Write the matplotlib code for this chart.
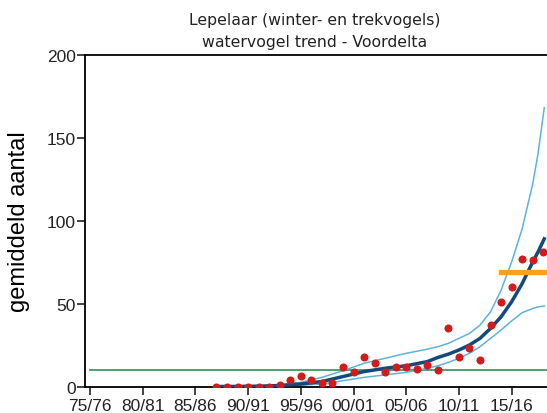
import matplotlib
matplotlib.use("Agg")
import matplotlib.pyplot as plt

# seizoenen (startjaar) met getelde aantallen
count_years = list(range(1987, 2019))
counts = [0, 0, 0, 0, 0, 0, 1.2, 3.8, 6.2, 4, 2, 2, 12, 8.8, 18, 14, 9, 12,
          12, 10.8, 13, 9.8, 35, 18, 23.3, 15.9, 37, 51, 59.8, 77, 76, 81]

# trendlijn met betrouwbaarheidsband
trend_years = [1987, 1989, 1991, 1993, 1995, 1997, 1999, 2001, 2003, 2005, 2007,
               2008, 2009, 2010, 2011, 2012, 2013, 2014, 2015, 2016, 2017, 2017.5, 2018.1]
trend = [0, 0.05, 0.2, 0.6, 1.5, 3, 6, 9, 11, 12.5, 15,
         17.5, 19.5, 22, 25, 29, 35, 42, 51, 62, 75, 81, 89]
upper = [0, 0.1, 0.3, 1, 2.5, 5.5, 9.5, 14, 17, 20, 22.5,
         24, 26, 29, 32, 37, 45, 58, 75, 95, 122, 140, 168]
lower = [0, 0, 0.1, 0.3, 0.8, 1.5, 3.5, 5.5, 7, 8.5, 11,
         12.5, 14.5, 17, 20, 24, 29, 34, 39.5, 44.5, 47, 48, 48.5]

# referentieniveau en recent gemiddelde
ref_years = [1975, 2019]
ref_level = [10, 10]
recent_years = [2014, 2019]
recent_level = [69, 69]

tick_years = [1975, 1980, 1985, 1990, 1995, 2000, 2005, 2010, 2015]
tick_labels = ['75/76', '80/81', '85/86', '90/91', '95/96', '00/01', '05/06', '10/11', '15/16']

fig = plt.figure(figsize=(5.47, 4.14), dpi=100)
ax = fig.add_axes([0.1563, 0.064, 0.8437, 0.8015])

ax.plot(ref_years, ref_level, color='#3a9a62', lw=1.3, zorder=1)
ax.plot(trend_years, upper, color='#5db3dc', lw=1.1, zorder=2)
ax.plot(trend_years, lower, color='#5db3dc', lw=1.1, zorder=2)
ax.plot(trend_years, trend, color='#134a7c', lw=2.5, zorder=3)
ax.plot(recent_years, recent_level, color='#f7a21b', lw=3.8, zorder=4)
ax.plot(count_years, counts, 'o', color='#d01c1c', ms=5.8, mec='none', zorder=5)

ax.set_xlim(1974.57, 2018.36)
ax.set_ylim(0, 200)
ax.set_yticks([0, 50, 100, 150, 200])
ax.set_xticks(tick_years)
ax.set_xticklabels(tick_labels)

ax.spines['right'].set_visible(False)
for s in ['left', 'top', 'bottom']:
    ax.spines[s].set_linewidth(1.3)
ax.tick_params(direction='out', length=6, width=1.2, labelsize=12.5, colors='#222222', pad=1)
ax.tick_params(axis='x', pad=2)

ax.set_ylabel('gemiddeld aantal', fontsize=17, labelpad=12, family='Liberation Sans')
for lab in ax.get_xticklabels() + ax.get_yticklabels():
    lab.set_family('Liberation Sans')

fig.text(0.575, 0.950, 'Lepelaar (winter- en trekvogels)', ha='center', va='center', fontsize=11.3, color='#222222')
fig.text(0.575, 0.897, 'watervogel trend - Voordelta', ha='center', va='center', fontsize=11.3, color='#222222')

fig.savefig('out.png', dpi=100)
